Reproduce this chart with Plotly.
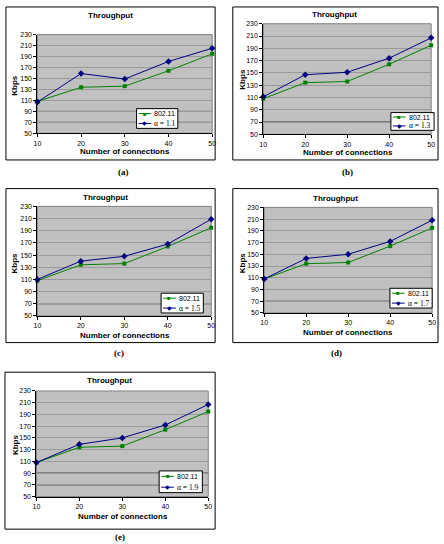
import plotly.graph_objects as go

# ---------------- data ----------------
connections = [10, 20, 30, 40, 50]
thr_80211 = [108, 134, 136, 164, 195]
thr_alpha_11 = [107, 159, 149, 181, 205]
thr_alpha_13 = [111, 147, 151, 174, 207]
thr_alpha_15 = [110, 140, 148, 168, 209]
thr_alpha_17 = [108, 143, 150, 172, 208]
thr_alpha_19 = [108, 139, 150, 172, 207]
alpha_labels = ["α = 1.1", "α = 1.3", "α = 1.5", "α = 1.7", "α = 1.9"]
base_label = "802.11"
panel_labels = ["(a)", "(b)", "(c)", "(d)", "(e)"]
y_ticks = [50, 70, 90, 110, 130, 150, 170, 190, 210, 230]
x_ticks = [10, 20, 30, 40, 50]
alpha_series = [thr_alpha_11, thr_alpha_13, thr_alpha_15, thr_alpha_17, thr_alpha_19]

# ---------------- layout (pixels) ----------------
W, H = 444, 544
GREEN, NAVY = "#008000", "#000080"
plot_px = [
    (34, 212, 31, 131),
    (264, 435, 20, 132),
    (34, 211, 205, 316),
    (265, 436, 206, 313),
    (33, 208, 392, 499),
]
frame_px = [
    (2, 215, 3, 158),
    (233, 442, 3, 158),
    (2, 215, 187, 343),
    (233, 442, 187, 343),
    (1, 215, 373, 532),
]
title_px = [(108, 12), (337, 11), (103, 196), (338, 197), (107, 381)]
ylab_px = [(11, 82), (242, 76), (11, 262), (243, 262), (11, 446)]
xlab_px = [(123, 149), (350, 150), (123, 336), (350, 333), (121, 519)]
sub_px = [(122, 170), (350, 170), (117, 354), (339, 354), (118, 540)]
legend_px = [(135, 106, 42, 20), (394, 110, 44, 18), (160, 293, 43, 20),
             (393, 288, 43, 20), (158, 473, 44, 22)]
dark_grid = [[70, 90], [70], [70], [70, 90], [70, 90]]


def px(x):
    return x / W


def py(y):
    return 1 - y / H


def note(text, x, y, size=8, family="Liberation Sans", color="black",
         xanchor="center", angle=0):
    return dict(text=text, x=px(x), y=py(y), xref="paper", yref="paper",
                showarrow=False, xanchor=xanchor, yanchor="middle",
                textangle=angle, font=dict(size=size, family=family, color=color))


fig = go.Figure()
shapes = []
annotations = []
layout = {}

for i in range(5):
    n = "" if i == 0 else str(i + 1)
    xa, ya = "x" + n, "y" + n
    fig.add_trace(go.Scatter(
        x=connections, y=thr_80211, name=base_label, mode="lines+markers",
        line=dict(color=GREEN, width=1),
        marker=dict(symbol="square", size=4, color=GREEN),
        xaxis=xa, yaxis=ya, cliponaxis=False, showlegend=False))
    fig.add_trace(go.Scatter(
        x=connections, y=alpha_series[i], name=alpha_labels[i], mode="lines+markers",
        line=dict(color=NAVY, width=1),
        marker=dict(symbol="diamond", size=5, color=NAVY),
        xaxis=xa, yaxis=ya, cliponaxis=False, showlegend=False))

    x0, x1, y0, y1 = plot_px[i]
    layout["xaxis" + n] = dict(
        domain=[px(x0), px(x1)], anchor=ya, range=[10, 50],
        tickvals=x_ticks, ticks="outside", ticklen=3, tickcolor="black",
        showline=True, linecolor="black", linewidth=1, showgrid=False,
        zeroline=False, tickfont=dict(size=7, family="Liberation Sans", color="black"))
    layout["yaxis" + n] = dict(
        domain=[py(y1), py(y0)], anchor=xa, range=[50, 230],
        tickvals=y_ticks, ticks="outside", ticklen=3, tickcolor="black",
        showline=True, linecolor="black", linewidth=1, showgrid=True,
        gridcolor="#9a9a9a", gridwidth=1, zeroline=False,
        tickfont=dict(size=7, family="Liberation Sans", color="black"))

    # plot area background
    shapes.append(dict(type="rect", xref="paper", yref="paper",
                       x0=px(x0), x1=px(x1), y0=py(y1), y1=py(y0),
                       fillcolor="#c0c0c0", line=dict(color="#808080", width=1),
                       layer="below"))
    # outer frame
    fx0, fx1, fy0, fy1 = frame_px[i]
    shapes.append(dict(type="rect", xref="paper", yref="paper",
                       x0=px(fx0), x1=px(fx1), y0=py(fy1), y1=py(fy0),
                       line=dict(color="black", width=1), layer="below"))
    # darker grid lines
    for g in dark_grid[i]:
        shapes.append(dict(type="line", xref=xa + " domain", yref=ya,
                           x0=0, x1=1, y0=g, y1=g,
                           line=dict(color="#303030", width=1), layer="below"))

    tx, ty = title_px[i]
    annotations.append(note("<b>Throughput</b>", tx, ty, size=8))
    lx, ly = ylab_px[i]
    annotations.append(note("<b>Kbps</b>", lx, ly, size=8, angle=-90))
    ax, ay = xlab_px[i]
    annotations.append(note("<b>Number of connections</b>", ax, ay, size=8))
    sx, sy = sub_px[i]
    annotations.append(note("<b>" + panel_labels[i] + "</b>", sx, sy, size=9,
                            family="Liberation Serif"))

    # compact legend box (drawn manually)
    gx, gy, gw, gh = legend_px[i]
    shapes.append(dict(type="rect", xref="paper", yref="paper",
                       x0=px(gx), x1=px(gx + gw), y0=py(gy + gh), y1=py(gy),
                       fillcolor="white", line=dict(color="black", width=1),
                       layer="above"))
    rows = [(gy + gh * 0.25, GREEN, "■", base_label, "Liberation Sans", 7),
            (gy + gh * 0.75, NAVY, "◆", alpha_labels[i], "Liberation Serif", 7.5)]
    for ry, col, sym, lab, fam, fs in rows:
        shapes.append(dict(type="line", xref="paper", yref="paper",
                           x0=px(gx + 2), x1=px(gx + 15), y0=py(ry), y1=py(ry),
                           line=dict(color=col, width=1), layer="above"))
        annotations.append(note(sym, gx + 8.5, ry, size=6, color=col))
        annotations.append(note(lab, gx + 16, ry, size=fs, family=fam,
                                xanchor="left"))

fig.update_layout(
    width=W, height=H, margin=dict(l=0, r=0, t=0, b=0),
    paper_bgcolor="white", plot_bgcolor="rgba(0,0,0,0)",
    showlegend=False, shapes=shapes, annotations=annotations, **layout)

fig.write_html("out.html")
